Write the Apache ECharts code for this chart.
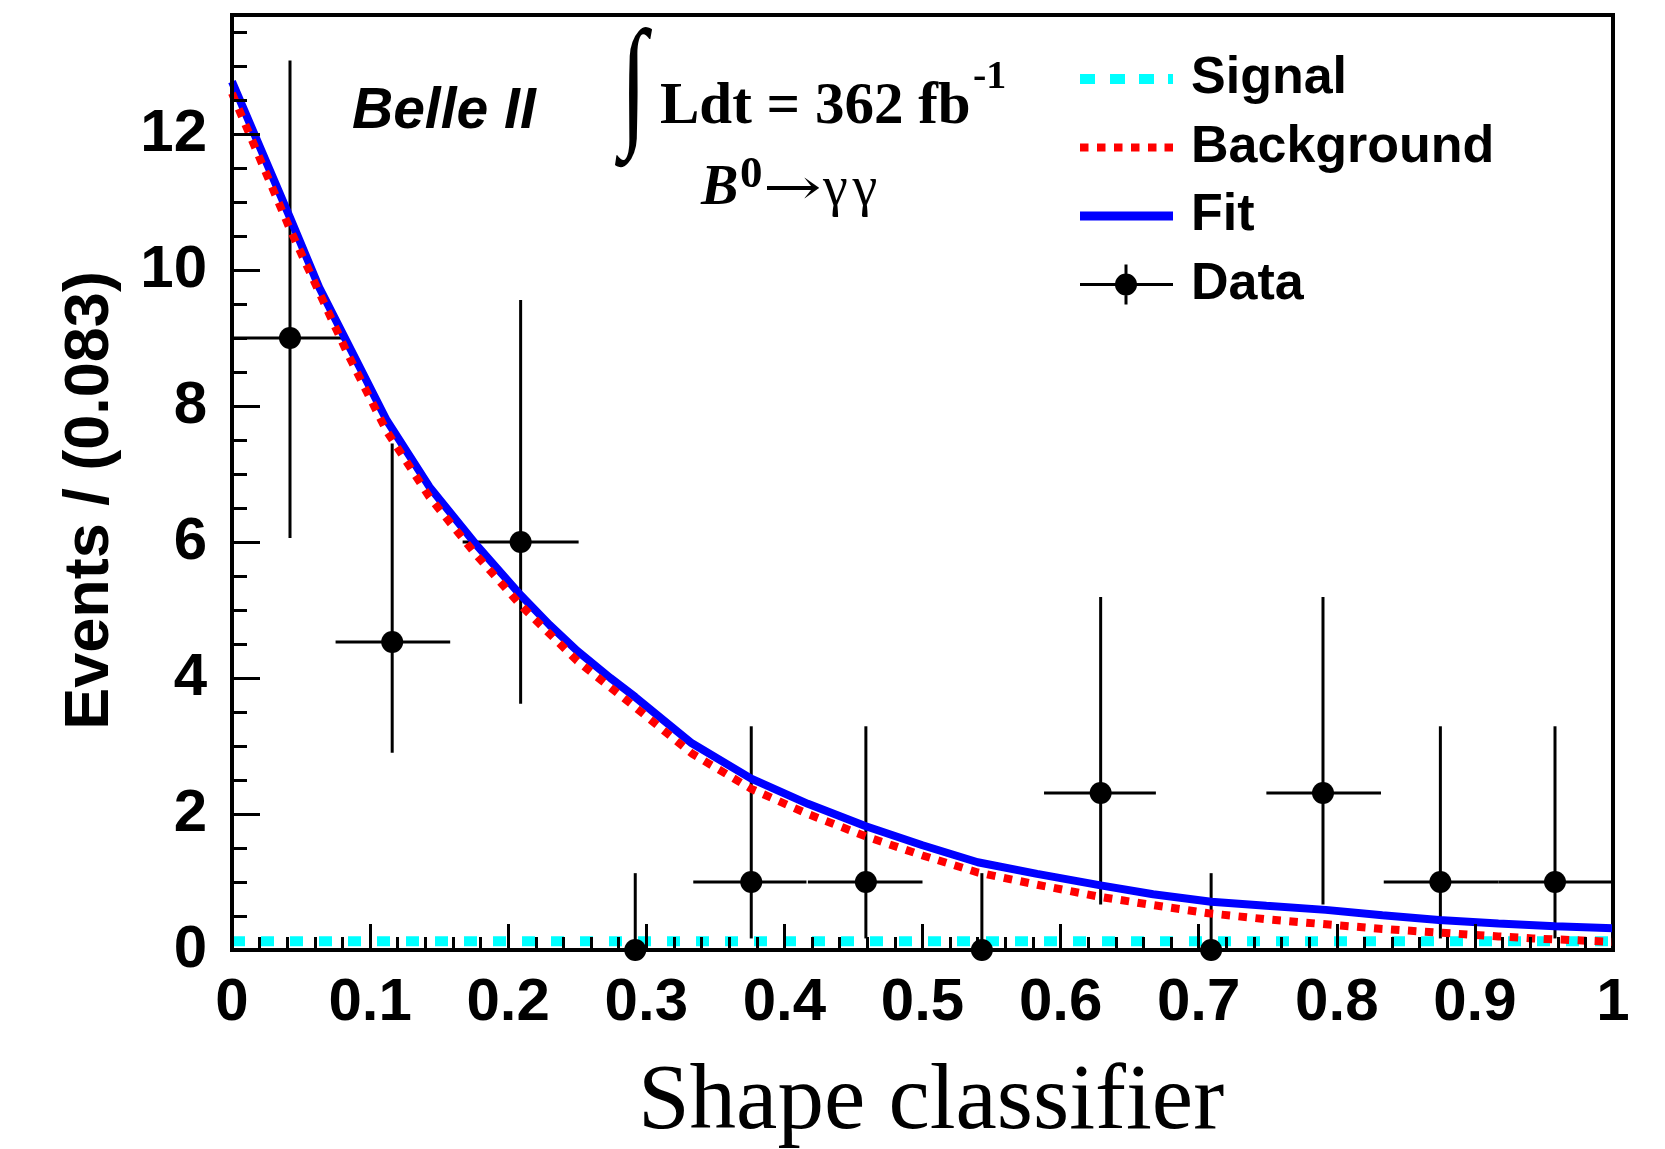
<!DOCTYPE html>
<html>
<head>
<meta charset="utf-8">
<script src="https://cdn.jsdelivr.net/npm/echarts@6/dist/echarts.min.js"></script>
<style>html,body{margin:0;padding:0;background:#fff;}#chart{width:1665px;height:1149px;}</style>
</head>
<body>
<div id="chart"></div>
<script>
// ---- Data ----
const xCenters = [0.042, 0.116, 0.209, 0.292, 0.376, 0.459, 0.543, 0.629, 0.709, 0.790, 0.875, 0.958];
const yValues  = [9, 4.53, 6, 0, 1, 1, 0, 2.31, 0, 2.31, 1, 1];
const yLow     = [6.06, 2.90, 3.62, 0, 0.17, 0.17, 0, 0.67, 0, 0.67, 0.17, 0.17];
const yHigh    = [13.08, 7.45, 9.56, 1.13, 3.29, 3.29, 1.13, 5.19, 1.13, 5.19, 3.29, 3.29];
const xLow     = [0, 0.075, 0.167, 0.25, 0.334, 0.417, 0.5, 0.588, 0.667, 0.749, 0.834, 0.917];
const xHigh    = [0.083, 0.158, 0.251, 0.333, 0.416, 0.5, 0.583, 0.669, 0.75, 0.832, 0.917, 1.0];

const fitX = [0, 0.042, 0.063, 0.083, 0.112, 0.143, 0.176, 0.209, 0.230, 0.25, 0.274, 0.292, 0.333, 0.376, 0.417, 0.459, 0.5, 0.540, 0.583, 0.629, 0.667, 0.709, 0.749, 0.792, 0.833, 0.874, 0.917, 0.958, 1.0];
const fitY = [12.77, 10.77, 9.75, 8.95, 7.79, 6.81, 5.98, 5.22, 4.78, 4.4, 4.0, 3.72, 3.04, 2.52, 2.15, 1.82, 1.54, 1.29, 1.12, 0.95, 0.82, 0.71, 0.65, 0.59, 0.51, 0.44, 0.39, 0.35, 0.32];

const bgX = [0, 0.042, 0.083, 0.112, 0.143, 0.176, 0.209, 0.25, 0.292, 0.333, 0.376, 0.417, 0.459, 0.5, 0.540, 0.583, 0.629, 0.667, 0.707, 0.75, 0.785, 0.833, 0.863, 0.917, 0.942, 1.0];
const bgY = [12.6, 10.6, 8.8, 7.63, 6.66, 5.83, 5.07, 4.25, 3.57, 2.89, 2.37, 2.0, 1.67, 1.39, 1.14, 0.96, 0.78, 0.66, 0.54, 0.45, 0.39, 0.31, 0.27, 0.2, 0.17, 0.12];

const sigX = [0, 1];
const sigY = [0.13, 0.13];

const seriesNames = ['Signal', 'Background', 'Fit', 'Data'];
const xTickLabels = ['0', '0.1', '0.2', '0.3', '0.4', '0.5', '0.6', '0.7', '0.8', '0.9', '1'];

// ---- Build ----
const errRows = xCenters.map((x, i) => [x, yValues[i], yLow[i], yHigh[i], xLow[i], xHigh[i]]);
const pts = xCenters.map((x, i) => [x, yValues[i]]);
const fitData = fitX.map((x, i) => [x, fitY[i]]);
const bgData = bgX.map((x, i) => [x, bgY[i]]);
const sigData = sigX.map((x, i) => [x, sigY[i]]);

// legend icons (drawn in a 93 x 40 box; tiny corner marks fix the box)
const CORNERS = 'M0,0 L0.01,0 L0,0.01 Z M93,40 L92.99,40 L93,39.99 Z ';
function rect(x, y, w, h) { return 'M' + x + ',' + y + ' L' + (x + w) + ',' + y + ' L' + (x + w) + ',' + (y + h) + ' L' + x + ',' + (y + h) + ' Z '; }
const sigIcon = 'path://' + CORNERS + rect(0, 15, 15, 10) + rect(30, 15, 15, 10) + rect(59, 15, 15, 10) + rect(88, 15, 5, 10);
const bgIcon = 'path://' + CORNERS + [0, 17, 34, 51, 68, 84.5].map(x => rect(x, 16, 8.5, 8)).join('');
const fitIcon = 'path://' + CORNERS + rect(0, 15.5, 93, 9);
const dataIcon = 'path://' + CORNERS + rect(0, 18.5, 93, 3) + rect(44.5, 0, 3, 40) + 'M35,20 A11,11 0 1,1 57,20 A11,11 0 1,1 35,20 Z';

const SANS = '"Liberation Sans", Arial, Helvetica, sans-serif';
const SERIF = '"Liberation Serif", "Times New Roman", serif';

const chart = echarts.init(document.getElementById('chart'), null, {renderer: 'canvas'});
chart.setOption({
  animation: false,
  backgroundColor: '#fff',
  grid: {left: 232, right: 52, top: 15, bottom: 199, show: true, borderColor: '#000', borderWidth: 4,
         containLabel: false, outerBoundsMode: 'none'},
  legend: {
    orient: 'vertical', left: 1075, top: 48, itemWidth: 93, itemHeight: 40, itemGap: 16.5,
    itemStyle: {borderWidth: 0, opacity: 1},
    textStyle: {fontFamily: SANS, fontWeight: 'bold', fontSize: 52, color: '#000', padding: [0, 0, 0, 13]},
    data: [
      {name: seriesNames[0], icon: sigIcon},
      {name: seriesNames[1], icon: bgIcon},
      {name: seriesNames[2], icon: fitIcon},
      {name: seriesNames[3], icon: dataIcon}
    ]
  },
  xAxis: {
    type: 'value', min: 0, max: 1, interval: 0.1, z: 5,
    axisLine: {show: true, onZero: false, lineStyle: {color: '#000', width: 4}},
    axisTick: {show: true, inside: true, length: 26, lineStyle: {color: '#000', width: 3}},
    minorTick: {show: true, splitNumber: 5, length: 13, lineStyle: {color: '#000', width: 3}},
    splitLine: {show: false},
    axisLabel: {fontFamily: SANS, fontWeight: 'bold', fontSize: 60, color: '#000', margin: 23,
      formatter: v => xTickLabels[Math.round(v * 10)] || ''},
    name: 'Shape classifier', nameLocation: 'middle', nameGap: 107,
    nameTextStyle: {fontFamily: SERIF, fontSize: 93, color: '#000', padding: [0, 0, 0, 17]}
  },
  yAxis: [{
    type: 'value', min: 0, max: 13.75, interval: 2, z: 5,
    axisLine: {show: true, onZero: false, lineStyle: {color: '#000', width: 4}},
    axisTick: {show: true, inside: true, length: 28, lineStyle: {color: '#000', width: 3}},
    splitLine: {show: false},
    axisLabel: {fontFamily: SANS, fontWeight: 'bold', fontSize: 60, color: '#000', margin: 25,
      formatter: v => (Math.abs(v / 2 - Math.round(v / 2)) < 1e-6 ? String(Math.round(v)) : '')},
    name: 'Events / (0.083)', nameLocation: 'middle', nameGap: 110, nameRotate: 90,
    nameTextStyle: {fontFamily: SANS, fontWeight: 'bold', fontSize: 63, color: '#000', padding: [0, 36, 0, 0]}
  }, {
    type: 'value', min: 0, max: 13.75, interval: 0.5, position: 'left', z: 5,
    axisLine: {show: false},
    axisTick: {show: true, inside: true, length: 15, lineStyle: {color: '#000', width: 3}},
    splitLine: {show: false},
    axisLabel: {show: false}
  }],
  series: [
    {
      name: 'DataErr', type: 'custom', z: 2, clip: true,
      data: errRows,
      encode: {x: 0, y: 1},
      renderItem: function (params, api) {
        const x = api.value(0), y = api.value(1);
        const pLo = api.coord([x, api.value(2)]), pHi = api.coord([x, api.value(3)]);
        const pL = api.coord([api.value(4), y]), pR = api.coord([api.value(5), y]);
        const st = {stroke: '#000', lineWidth: 3};
        return {type: 'group', children: [
          {type: 'line', shape: {x1: pLo[0], y1: pLo[1], x2: pHi[0], y2: pHi[1]}, style: st},
          {type: 'line', shape: {x1: pL[0], y1: pL[1], x2: pR[0], y2: pR[1]}, style: st}
        ]};
      }
    },
    {
      name: 'Signal', type: 'line', data: sigData, symbol: 'none', z: 3, clip: true,
      itemStyle: {color: '#00ffff', borderWidth: 0},
      lineStyle: {color: '#00ffff', width: 10, type: [13, 16]}
    },
    {
      name: 'Fit', type: 'line', data: fitData, symbol: 'none', z: 3, clip: true,
      itemStyle: {color: '#0000ff', borderWidth: 0},
      lineStyle: {color: '#0000ff', width: 8, type: 'solid'}
    },
    {
      name: 'Background', type: 'line', data: bgData, symbol: 'none', z: 4, clip: true,
      itemStyle: {color: '#ff0000', borderWidth: 0},
      lineStyle: {color: '#ff0000', width: 8, type: [8.5, 8.5]}
    },
    {
      name: 'Data', type: 'scatter', data: pts, symbol: 'circle', symbolSize: 22, z: 6, clip: false,
      itemStyle: {color: '#000', opacity: 1, borderWidth: 0}
    }
  ],
  graphic: [
    {type: 'text', left: 352, top: 84, style: {text: 'Belle II', font: 'italic bold 57px ' + SANS, fill: '#000'}},
    {type: 'text', x: 620, y: 20, scaleX: 0.7, scaleY: 1.02, style: {text: '\u222B', font: '140px ' + SERIF, fill: '#000'}},
    {type: 'text', left: 660, top: 78, style: {text: 'Ldt = 362 fb', font: 'bold 59px ' + SERIF, fill: '#000'}},
    {type: 'text', left: 973, top: 58, style: {text: '-1', font: 'bold 40px ' + SERIF, fill: '#000'}},
    {type: 'text', left: 701, top: 162, style: {text: 'B', font: 'italic bold 56px ' + SERIF, fill: '#000'}},
    {type: 'text', left: 740, top: 153, style: {text: '0', font: 'bold 45px ' + SERIF, fill: '#000'}},
    {type: 'text', x: 763, y: 166, scaleX: 1.4, style: {text: '\u2192', font: '50px "DejaVu Serif", serif', fill: '#000'}},
    {type: 'text', left: 823, top: 162, style: {text: '\u03B3\u200A\u03B3', font: '56px ' + SERIF, fill: '#000'}}
  ]
});
</script>
</body>
</html>
